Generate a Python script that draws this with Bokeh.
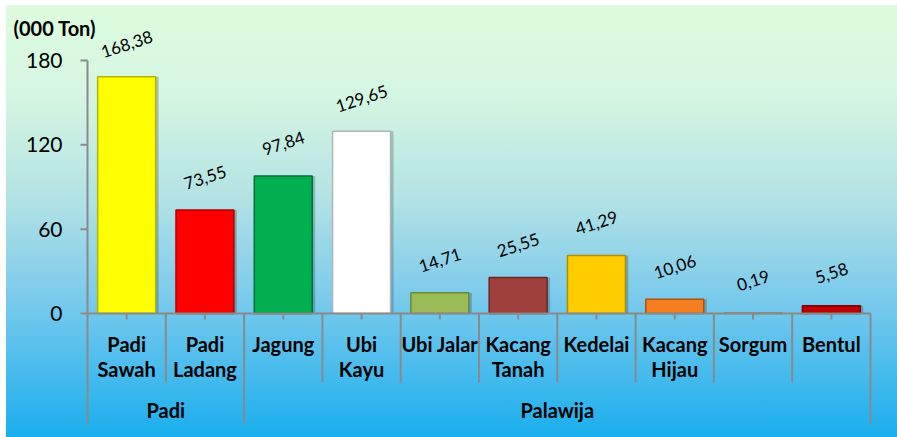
from bokeh.plotting import figure
from bokeh.models import Range1d, ColumnDataSource
from bokeh.core.properties import value
from bokeh.transform import dodge
from bokeh.embed import file_html
from bokeh.resources import INLINE

# ---------------- data ----------------
categories = ["Padi\nSawah", "Padi\nLadang", "Jagung", "Ubi\nKayu", "Ubi Jalar",
              "Kacang\nTanah", "Kedelai", "Kacang\nHijau", "Sorgum", "Bentul"]
values = [168.38, 73.55, 97.84, 129.65, 14.71, 25.55, 41.29, 10.06, 0.19, 5.58]
groups = ["Padi", "Palawija"]
group_sizes = [2, 8]
y_ticks = [0, 60, 120, 180]
unit_label = "(000 Ton)"

bar_colors = ["#ffff00", "#ff0000", "#00b050", "#ffffff", "#9bbb59",
              "#a0403c", "#ffcc00", "#f57f20", "#d9874a", "#c00000"]
bar_edges = ["#b5b500", "#b00000", "#006e38", "#b4b4b4", "#6b8a35",
             "#6b2623", "#b08c00", "#b0500a", "#a05a2a", "#800000"]

# ---------------- layout constants ----------------
W, H = 897, 437
AX_X = 87          # pixel position of the value axis
ZERO_Y = 313       # pixel position of the zero line
PX_CAT = 78.3
PX_UNIT = 253.0 / 180.0
n = len(categories)

def px(v):
    return v / PX_UNIT

def cx(v):
    return v / PX_CAT

p = figure(width=W, height=H,
           x_range=Range1d(-cx(AX_X), cx(W - AX_X)),
           y_range=Range1d(-px(H - ZERO_Y), px(ZERO_Y)),
           output_backend="svg", toolbar_location=None,
           x_axis_type=None, y_axis_type=None,
           min_border_left=0, min_border_right=0, min_border_top=0, min_border_bottom=0)
p.grid.visible = False
p.outline_line_color = None
p.background_fill_alpha = 0
p.border_fill_alpha = 0
p.styles = {
    "background": "linear-gradient(to bottom, #ddfcdd 0%, #d4f5e2 22%, #b2e2e4 45%, "
                  "#7acaec 68%, #1aaeee 100%) 6px 5px / calc(100% - 6px) calc(100% - 5px) "
                  "no-repeat, #ffffff"
}

grey = "#8a8a8a"
sep_low = -px(423 - ZERO_Y)
sub_low = -px(382 - ZERO_Y)

# ---------------- value axis ----------------
p.segment(x0=[0], y0=[sep_low], x1=[0], y1=[max(y_ticks)], line_color=grey, line_width=2)
p.segment(x0=[-cx(7)] * len(y_ticks), y0=y_ticks, x1=[0] * len(y_ticks), y1=y_ticks,
          line_color=grey, line_width=2)
p.text(x=[-cx(AX_X - 62)] * len(y_ticks), y=y_ticks, text=[str(t) for t in y_ticks],
       text_align="right", text_baseline="middle", text_font=value("Lato"),
       text_font_size="21px", text_color="black")
p.text(x=[-cx(AX_X - 13)], y=[px(ZERO_Y - 27)], text=[unit_label], text_align="left",
       text_baseline="middle", text_font=value("Lato"), text_font_style="bold",
       text_font_size="20px", text_color="black")

# ---------------- bars ----------------
xs = [i + 0.5 for i in range(n)]
labels = [f"{v:.2f}".replace(".", ",") for v in values]
src = ColumnDataSource(dict(x=xs, top=values, color=bar_colors, edge=bar_edges, label=labels))

p.vbar(x=dodge("x", cx(3)), top="top", bottom=0, width=0.74, source=src,
       fill_color="#000000", fill_alpha=0.2, line_color=None)
p.vbar(x="x", top="top", bottom=0, width=0.74, source=src,
       fill_color="color", line_color="edge", line_width=1.5)

p.text(x="x", y="top", text="label", source=src, angle=18, angle_units="deg",
       text_align="center", text_baseline="middle", y_offset=-33,
       text_font=value("Lato"), text_font_size="17px", text_color="black")

# ---------------- category axis ----------------
p.segment(x0=[0], y0=[0], x1=[n], y1=[0], line_color=grey, line_width=2)
p.segment(x0=xs, y0=[0] * n, x1=xs, y1=[-px(6)] * n, line_color=grey, line_width=2)

group_edges = [0]
for g in group_sizes:
    group_edges.append(group_edges[-1] + g)
sub_b = [i for i in range(1, n) if i not in group_edges]
p.segment(x0=sub_b, y0=[0] * len(sub_b), x1=sub_b, y1=[sub_low] * len(sub_b),
          line_color=grey, line_width=2)
gb = [e for e in group_edges if e != 0]
p.segment(x0=gb, y0=[0] * len(gb), x1=gb, y1=[sep_low] * len(gb),
          line_color=grey, line_width=2)

line1 = [c.split("\n")[0] for c in categories]
line2 = [c.split("\n")[1] if "\n" in c else "" for c in categories]
p.text(x=xs, y=[-px(343 - ZERO_Y)] * n, text=line1, text_align="center", text_baseline="middle",
       text_font=value("Lato"), text_font_style="bold", text_font_size="20px", text_color="black")
p.text(x=xs, y=[-px(368 - ZERO_Y)] * n, text=line2, text_align="center", text_baseline="middle",
       text_font=value("Lato"), text_font_style="bold", text_font_size="20px", text_color="black")

gx = [(group_edges[i] + group_edges[i + 1]) / 2 for i in range(len(groups))]
p.text(x=gx, y=[-px(409 - ZERO_Y)] * len(groups), text=groups, text_align="center",
       text_baseline="middle", text_font=value("Lato"), text_font_style="bold",
       text_font_size="20px", text_color="black")

open("out.html", "w").write(file_html(p, INLINE))
